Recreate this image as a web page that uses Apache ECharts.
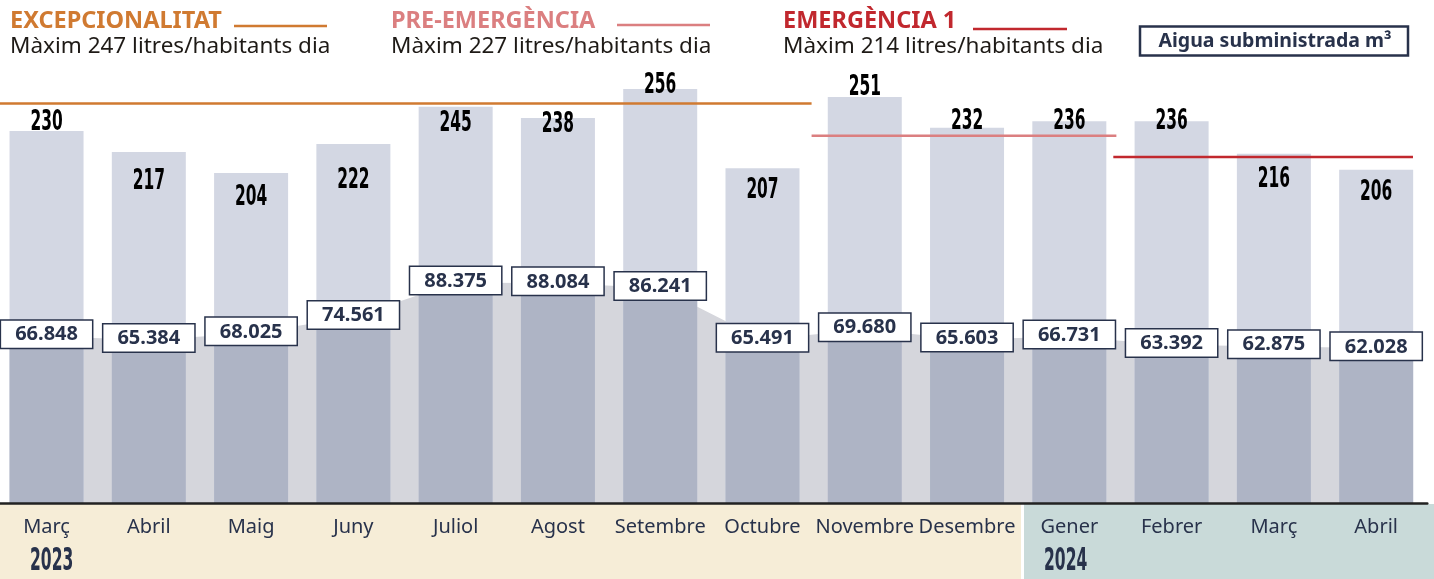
<!DOCTYPE html>
<html><head><meta charset="utf-8">
<script src="https://cdn.jsdelivr.net/npm/echarts@6/dist/echarts.min.js"></script>
<style>html,body{margin:0;padding:0;background:#fff;overflow:hidden;width:1434px;height:579px}#c{position:absolute;left:-5px;top:0;width:1439px;height:579px}</style>
</head><body><div id="c"></div>
<script>
// ---- data ----
const months = ['Març','Abril','Maig','Juny','Juliol','Agost','Setembre','Octubre','Novembre','Desembre','Gener','Febrer','Març','Abril'];
const litresPerHab = [230,217,204,222,245,238,256,207,251,232,236,236,216,206];
const waterSupplied = [66.848,65.384,68.025,74.561,88.375,88.084,86.241,65.491,69.680,65.603,66.731,63.392,62.875,62.028];
const years = ['2023','2024'];
const phaseNames = ['EXCEPCIONALITAT','PRE-EMERGÈNCIA','EMERGÈNCIA 1'];
const phaseLimits = [247, 227, 214];
const phaseFrom = [-0.5, 7.48, 10.43];   // month index where each phase line starts
const phaseTo = [7.48, 10.46, 13.36];    // month index where each phase line ends
const legendText = 'Aigua subministrada m³';

// ---- styles ----
const DX = 5; // page is shifted 5px left
const NAVY = '#28324b';
const phaseColors = ['#d07a31', '#db7f80', '#c1282e'];
const lightLabelShift = [-8.4, 29.4, 25, 37, 17, 7, -3, 22, -9, -6, 0.6, 0, 26, 23];
const COND = "'DejaVu Sans Condensed','DejaVu Sans',sans-serif";
const SANS = "'Noto Sans','Open Sans',sans-serif";

const chart = echarts.init(document.getElementById('c'), null, {renderer: 'canvas'});

const phaseSeries = phaseLimits.map((lim, i) => ({
  type: 'line', xAxisIndex: 1, yAxisIndex: 0, z: 5,
  symbol: 'none', silent: true,
  lineStyle: {color: phaseColors[i], width: 2.5},
  data: [[phaseFrom[i], lim], [phaseTo[i], lim]]
}));

const headerX = [10, 391, 783];
const headerLineX = [[234, 327], [617, 710], [973, 1067]];
const headerLineY = [26, 25, 29];
const graphics = [
  {type: 'rect', z: -10, shape: {x: 0 + DX, y: 504, width: 1021, height: 75}, style: {fill: '#f6edd7'}},
  {type: 'rect', z: -10, shape: {x: 1024 + DX, y: 504, width: 410, height: 75}, style: {fill: '#c9dad9'}},
  {type: 'text', x: 30 + DX, y: 562, scaleX: 0.72, scaleY: 1.3, style: {x: 0, y: 0, text: years[0], font: 'bold 24px ' + COND, fill: NAVY, verticalAlign: 'middle'}},
  {type: 'text', x: 1044 + DX, y: 562, scaleX: 0.72, scaleY: 1.3, style: {x: 0, y: 0, text: years[1], font: 'bold 24px ' + COND, fill: NAVY, verticalAlign: 'middle'}},
  {type: 'rect', shape: {x: 1140 + DX, y: 26.5, width: 268, height: 29}, style: {fill: '#fff', stroke: NAVY, lineWidth: 2.5}},
  {type: 'text', style: {x: 1275 + DX, y: 41.5, text: legendText, font: 'bold 19.5px ' + SANS, fill: NAVY, align: 'center', verticalAlign: 'middle'}}
];
phaseNames.forEach((n, i) => {
  graphics.push({type: 'text', style: {x: headerX[i] + DX, y: 21.5, text: n, font: 'bold 23.5px ' + SANS, fill: phaseColors[i], verticalAlign: 'middle'}});
  graphics.push({type: 'text', style: {x: headerX[i] + DX, y: 47, text: 'Màxim ' + phaseLimits[i] + ' litres/habitants dia', font: '22.5px ' + SANS, fill: '#1e1a16', verticalAlign: 'middle'}});
  graphics.push({type: 'line', shape: {x1: headerLineX[i][0] + DX, y1: headerLineY[i], x2: headerLineX[i][1] + DX, y2: headerLineY[i]}, style: {stroke: phaseColors[i], lineWidth: 2.5}});
});

chart.setOption({
  animation: false,
  grid: {left: 0.4, right: 6.7, top: 0, bottom: 76, containLabel: false},
  xAxis: [
    {type: 'category', data: months,
     axisLine: {lineStyle: {color: '#222', width: 2.5}},
     axisTick: {inside: true, length: 10, lineStyle: {color: '#222', width: 2.5}},
     axisLabel: {color: NAVY, fontFamily: SANS, fontSize: 20, margin: 14, interval: 0},
     z: 10},
    {type: 'value', min: -0.5, max: 13.5, show: false}
  ],
  yAxis: [
    {type: 'value', min: 0, max: 311, show: false, splitLine: {show: false}},
    {type: 'value', min: 0, max: 201.7, show: false, splitLine: {show: false}}
  ],
  graphic: graphics,
  series: [
    {type: 'line', yAxisIndex: 1, z: 1, symbol: 'none', silent: true,
     lineStyle: {width: 0}, areaStyle: {color: '#d5d6dc', opacity: 1},
     data: waterSupplied},
    {type: 'bar', yAxisIndex: 0, z: 2, barWidth: 74, barGap: '-100%',
     itemStyle: {color: '#d3d7e3'},
     data: litresPerHab},
    {type: 'bar', yAxisIndex: 1, z: 3, barWidth: 74, barGap: '-100%',
     itemStyle: {color: '#aeb4c5'},
     data: waterSupplied,
     label: {show: true, position: 'top', distance: -11.5,
             formatter: p => p.value.toFixed(3),
             fontFamily: SANS, fontWeight: 'bold', fontSize: 20, color: NAVY, lineHeight: 22,
             backgroundColor: '#fff', borderColor: NAVY, borderWidth: 1.5,
             padding: [3, 14, 2, 14]}},
    // narrow value labels for litres per inhabitant
    {type: 'custom', yAxisIndex: 0, z: 6, silent: true,
     data: litresPerHab.map((v, i) => [i, v]),
     renderItem: (params, api) => {
       const i = api.value(0);
       const pt = api.coord([i, api.value(1)]);
       return {type: 'text', x: pt[0], y: pt[1] + lightLabelShift[i], scaleX: 0.66, scaleY: 1.1,
               style: {x: 0, y: 0, text: String(api.value(1)), font: 'bold 26px ' + COND,
                       fill: '#000', align: 'center', verticalAlign: 'middle'}};
     }},
    ...phaseSeries
  ]
});
</script></body></html>
